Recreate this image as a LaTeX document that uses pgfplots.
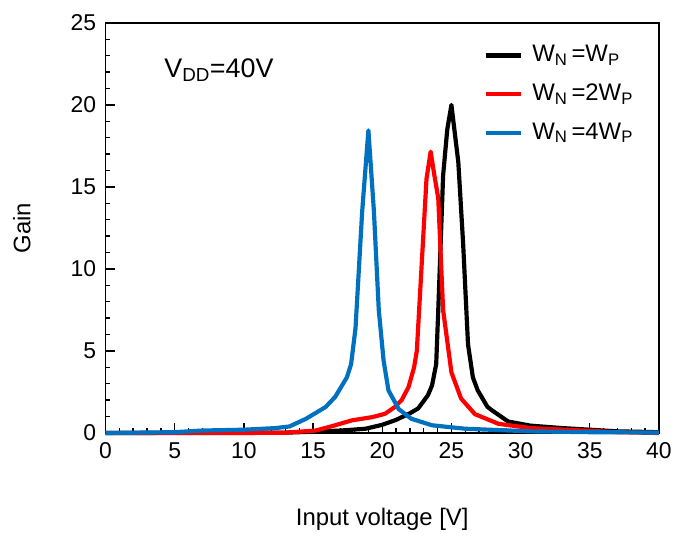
\documentclass[border=0pt]{standalone}
\usepackage{pgfplots}
\pgfplotsset{compat=1.18}
\usepackage{fontspec}
\setmainfont{Liberation Sans}
\definecolor{myblue}{RGB}{0,112,192}
\definecolor{myred}{RGB}{255,0,0}
\begin{document}
\begin{tikzpicture}
\begin{axis}[
  scale only axis,
  width=556pt, height=412pt,
  xmin=0, xmax=40, ymin=0, ymax=25,
  xtick={0,5,...,40}, ytick={0,5,...,25},
  minor x tick num=4, minor y tick num=4,
  tick pos=left,
  tick align=inside,
  major tick length=10pt, minor tick length=5pt,
  every tick/.style={black, line width=1.4pt},
  axis line style={line width=1.6pt},
  /pgf/number format/assume math mode=true,
  ticklabel style={font=\fontsize{23}{27}\selectfont},
  xticklabel style={yshift=-6pt},
  yticklabel style={xshift=-6pt},
  clip=false,
  xlabel={Input voltage [V]},
  ylabel={Gain},
  xlabel style={font=\fontsize{24}{28}\selectfont, at={(axis description cs:0.5,-0.21)}, anchor=center},
  ylabel style={font=\fontsize{24}{28}\selectfont, at={(axis description cs:-0.151,0.5)}, anchor=center, rotate=0},
  legend style={at={(axis cs:27.3,23.75)}, anchor=north west, draw=none, fill=none,
     font=\fontsize{24}{28}\selectfont, row sep=15pt, inner sep=0pt,
     nodes={inner sep=0pt, text height=18pt, text depth=6pt},
     /tikz/every odd column/.style={column sep=9pt}},
  legend cell align=left,
  legend image code/.code={\draw[#1] (0pt,0pt) -- (36pt,0pt);},
]
\addplot[black, line width=4.2pt, line join=round] coordinates {
(0,0) (10,0) (13,0.02) (15,0.08) (17,0.15) (18.8,0.26) (20,0.5) (21,0.8) (22,1.2) (22.6,1.5) (23.3,2.3) (23.6,2.9) (23.9,4.2) (24.05,7.5) (24.4,15.7) (24.7,18.5) (25.0,20.0) (25.5,16.5) (25.85,11.5) (26.2,5.4) (26.55,3.4) (26.9,2.6) (27.6,1.6) (27.9,1.4) (29.1,0.7) (30.7,0.45) (33,0.3) (35,0.2) (37,0.1) (40,0.05)
};
\addlegendentry{W\textsubscript{N}\,=W\textsubscript{P}}
\addplot[myred, line width=4.2pt, line join=round] coordinates {
(0,0) (13,0.02) (15.2,0.15) (16.6,0.47) (17.8,0.77) (19.3,0.97) (20.2,1.17) (20.9,1.58) (21.4,2.0) (21.9,2.8) (22.3,4.0) (22.5,5.0) (22.8,9.5) (23.2,15.5) (23.5,17.15) (23.75,15.8) (24.05,14.3) (24.4,7.5) (25.0,3.7) (25.7,2.1) (26.7,1.15) (28.4,0.56) (30.7,0.3) (34.5,0.15) (37,0.05) (40,0)
};
\addlegendentry{W\textsubscript{N}\,=2W\textsubscript{P}}
\addplot[myblue, line width=4.2pt, line join=round] coordinates {
(0,0) (5,0.05) (7,0.15) (10,0.2) (12.3,0.3) (13.3,0.4) (14.5,0.87) (15.9,1.58) (16.6,2.2) (17.45,3.4) (17.75,4.2) (18.07,6.4) (18.55,13.5) (19.0,18.45) (19.4,13.5) (19.75,7.5) (20.1,4.4) (20.45,2.6) (21.2,1.45) (22.1,0.87) (23.6,0.47) (26.0,0.26) (30.7,0.1) (35,0.05) (40,0.03)
};
\addlegendentry{W\textsubscript{N}\,=4W\textsubscript{P}}
\node[anchor=base west, font=\fontsize{27}{30}\selectfont] at (axis cs:4.0,21.7) {V\textsubscript{DD}=40V};
\end{axis}
\path (current axis.south west) ++(-106pt,-120pt) rectangle ++(675pt,555pt);
\end{tikzpicture}
\end{document}
